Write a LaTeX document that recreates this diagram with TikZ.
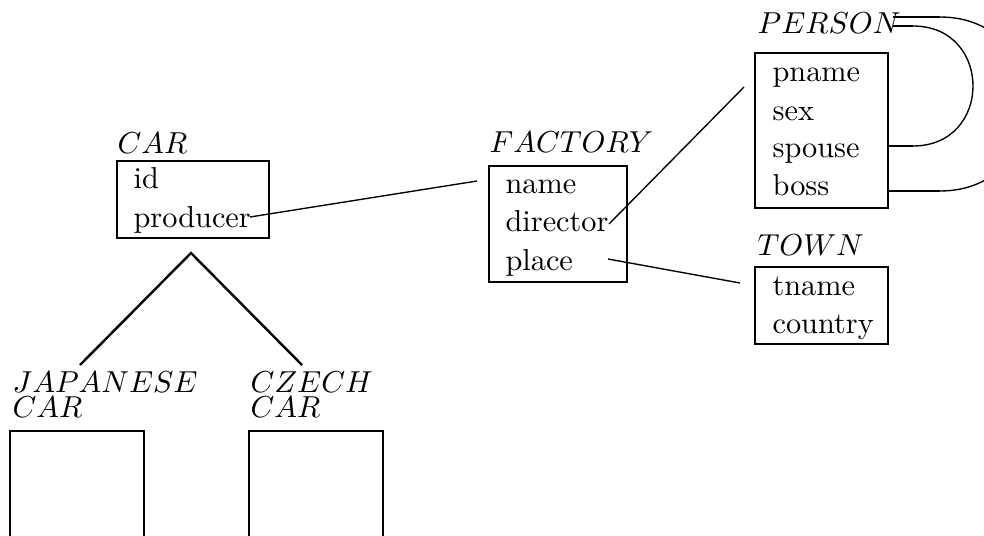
\documentclass[tikz,border=0pt]{standalone}
\usetikzlibrary{fit}
\begin{document}
\begin{tikzpicture}[x=0.33pt,y=-0.33pt,
  box/.style={draw,line width=0.8pt,inner sep=0pt},
  txt/.style={anchor=base west,inner sep=0pt},
  conn/.style={line width=0.45pt},
  tree/.style={line width=0.8pt},
  tip/.style={line width=0.9pt}]
\useasboundingbox (0,0) rectangle (984,536);
\clip (0,0) rectangle (984,536);
% CAR
\node[txt] (carl) at (117,153) {$CAR$};
\node[box,fit={(117,161)(269,238)}] (car) {};
\node[txt] (cid) at (133,188) {id};
\node[txt] (cprod) at (133,227) {producer};
% FACTORY
\node[txt] (facl) at (489,152) {$FACTORY$};
\node[box,fit={(489,166)(627,282)}] (fac) {};
\node[txt] (fname) at (505,193) {name};
\node[txt] (fdir) at (505,231) {director};
\node[txt] (fplace) at (505,270) {place};
% PERSON
\node[txt] (perl) at (757,33) {$PERSON$};
\node[box,fit={(755,53)(888,208)}] (per) {};
\node[txt] (pname) at (772,82) {pname};
\node[txt] (psex) at (772,120) {sex};
\node[txt] (pspouse) at (772,157) {spouse};
\node[txt] (pboss) at (772,195) {boss};
% TOWN
\node[txt] (townl) at (757,255) {$TOWN$};
\node[box,fit={(755,267)(888,344)}] (town) {};
\node[txt] (tname) at (772,295) {tname};
\node[txt] (tcountry) at (772,333) {country};
% subclasses
\node[txt] (japl1) at (12,392) {$JAPANESE$};
\node[txt] (japl2) at (12,417) {$CAR$};
\node[box,fit={(10,431)(144,560)}] (jap) {};
\node[txt] (czl1) at (250,392) {$CZECH$};
\node[txt] (czl2) at (250,417) {$CAR$};
\node[box,fit={(249,431)(383,560)}] (cz) {};
% coordinates
\coordinate (prodend) at (250,217);
\coordinate (facin) at (477,181);
\coordinate (dirend) at (609,224);
\coordinate (perin) at (744,87);
\coordinate (placeend) at (608,259);
\coordinate (townin) at (740,283);
\coordinate (apex) at (191,253);
\coordinate (japtop) at (80,365);
\coordinate (cztop) at (302,365);
\coordinate (sp) at (888,146);
\coordinate (bo) at (888,191);
\coordinate (in1) at (893,26);
\coordinate (in2) at (893,17);
% connectors
\draw[conn] (prodend) -- (facin);
\draw[conn] (dirend) -- (perin);
\draw[conn] (placeend) -- (townin);
\draw[tree] (japtop) -- (apex) -- (cztop);
\draw[tip] (sp) -- (913,146);
\draw[conn] (913,146) .. controls (993,146) and (993,26) .. (913,26);
\draw[tip] (913,26) -- (in1);
\draw[tip] (bo) -- (940,191);
\draw[conn] (940,191) .. controls (1056,191) and (1056,17) .. (940,17);
\draw[tip] (940,17) -- (in2);
\end{tikzpicture}
\end{document}
